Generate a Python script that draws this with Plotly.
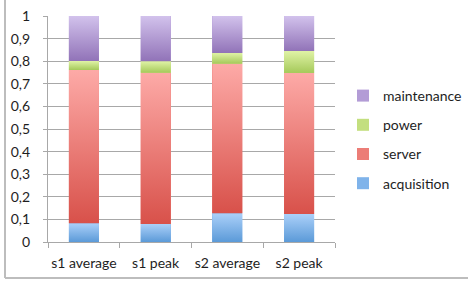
import plotly.graph_objects as go

# ---- data ----
categories = ["s1 average", "s1 peak", "s2 average", "s2 peak"]
acquisition = [0.083, 0.080, 0.127, 0.124]
server = [0.678, 0.669, 0.662, 0.624]
power = [0.040, 0.051, 0.047, 0.097]
maintenance = [0.199, 0.200, 0.164, 0.155]
series_names = ["acquisition", "server", "power", "maintenance"]
y_tick_values = [0, 0.1, 0.2, 0.3, 0.4, 0.5, 0.6, 0.7, 0.8, 0.9, 1]

# ---- styles ----
series_values = [acquisition, server, power, maintenance]
grad = {  # (top colour, bottom colour, legend/mid colour)
    "acquisition": ("#abd0f9", "#5b9ad8", "#7fb3ea"),
    "server": ("#fdaaa7", "#d8514a", "#ec7d77"),
    "power": ("#e0f3a6", "#a5c95a", "#c3df7f"),
    "maintenance": ("#d2c2ec", "#9173b8", "#b39cd6"),
}
BAR_W = 0.42
GRID = "#a8a8a8"
FONT = "Lato"
TXT = "#1e1e1e"

x = list(range(len(categories)))
fig = go.Figure()

# stacked bars (carry the data and the legend)
n = len(series_names)
for k, (name, vals) in enumerate(zip(series_names, series_values)):
    fig.add_trace(go.Bar(
        x=x, y=vals, name=name, width=BAR_W, legendgroup=name,
        legendrank=n - k,
        marker=dict(color=grad[name][2], line=dict(width=0)),
    ))

# vertical gradient overlay for every stacked segment
cum = [0.0] * len(categories)
for k, (name, vals) in enumerate(zip(series_names, series_values)):
    top_c, bot_c, _ = grad[name]
    for i, v in enumerate(vals):
        b, t = cum[i], cum[i] + v
        fig.add_trace(go.Scatter(
            x=[i - BAR_W / 2, i + BAR_W / 2, i + BAR_W / 2, i - BAR_W / 2, i - BAR_W / 2],
            y=[b, b, t, t, b],
            mode="none", fill="toself", showlegend=False, hoverinfo="skip",
            legendgroup=name, legendrank=n - k,
            fillgradient=dict(type="vertical", colorscale=[[0, bot_c], [1, top_c]]),
        ))
        cum[i] = t

fig.update_layout(
    width=468, height=285,
    margin=dict(l=48, r=133, t=16, b=43, autoexpand=False),
    barmode="stack",
    separators=", ",
    paper_bgcolor="white", plot_bgcolor="white",
    font=dict(family=FONT, size=14, color=TXT),
    showlegend=True,
    legend=dict(
        xref="container", yref="container", x=343 / 468, y=1 - 80 / 285,
        xanchor="left", yanchor="top",
        traceorder="grouped", tracegroupgap=8,
        font=dict(family=FONT, size=14, color=TXT),
        bgcolor="rgba(0,0,0,0)",
    ),
    xaxis=dict(
        range=[-0.5, len(categories) - 0.5],
        tickmode="array", tickvals=x, ticktext=categories, ticks="",
        showgrid=False, zeroline=False,
        showline=True, linecolor=GRID, linewidth=1.3,
        ticklabelstandoff=8,
        minor=dict(tickmode="array",
                   tickvals=[i - 0.5 for i in range(len(categories) + 1)],
                   ticks="outside", ticklen=5, tickcolor=GRID, tickwidth=1.3,
                   showgrid=False),
    ),
    yaxis=dict(
        range=[0, 1], tickmode="array", tickvals=y_tick_values,
        showgrid=True, gridcolor=GRID, gridwidth=1.3, zeroline=False,
        showline=True, linecolor=GRID, linewidth=1.3,
        ticks="outside", ticklen=4, tickcolor=GRID, tickwidth=1.3,
        ticklabelstandoff=10,
    ),
    shapes=[
        dict(type="line", xref="paper", yref="paper",
             x0=(5 - 48) / 287, x1=(5 - 48) / 287, y0=(242 + 5) / 226, y1=(242 - 278) / 226,
             line=dict(color="#bdbdbd", width=2)),
        dict(type="line", xref="paper", yref="paper",
             x0=(5 - 48) / 287, x1=(470 - 48) / 287, y0=(242 - 278) / 226, y1=(242 - 278) / 226,
             line=dict(color="#bdbdbd", width=2)),
    ],
)

fig.write_html("out.html", config={"displayModeBar": False},
               post_script="document.body.style.margin='0';")
